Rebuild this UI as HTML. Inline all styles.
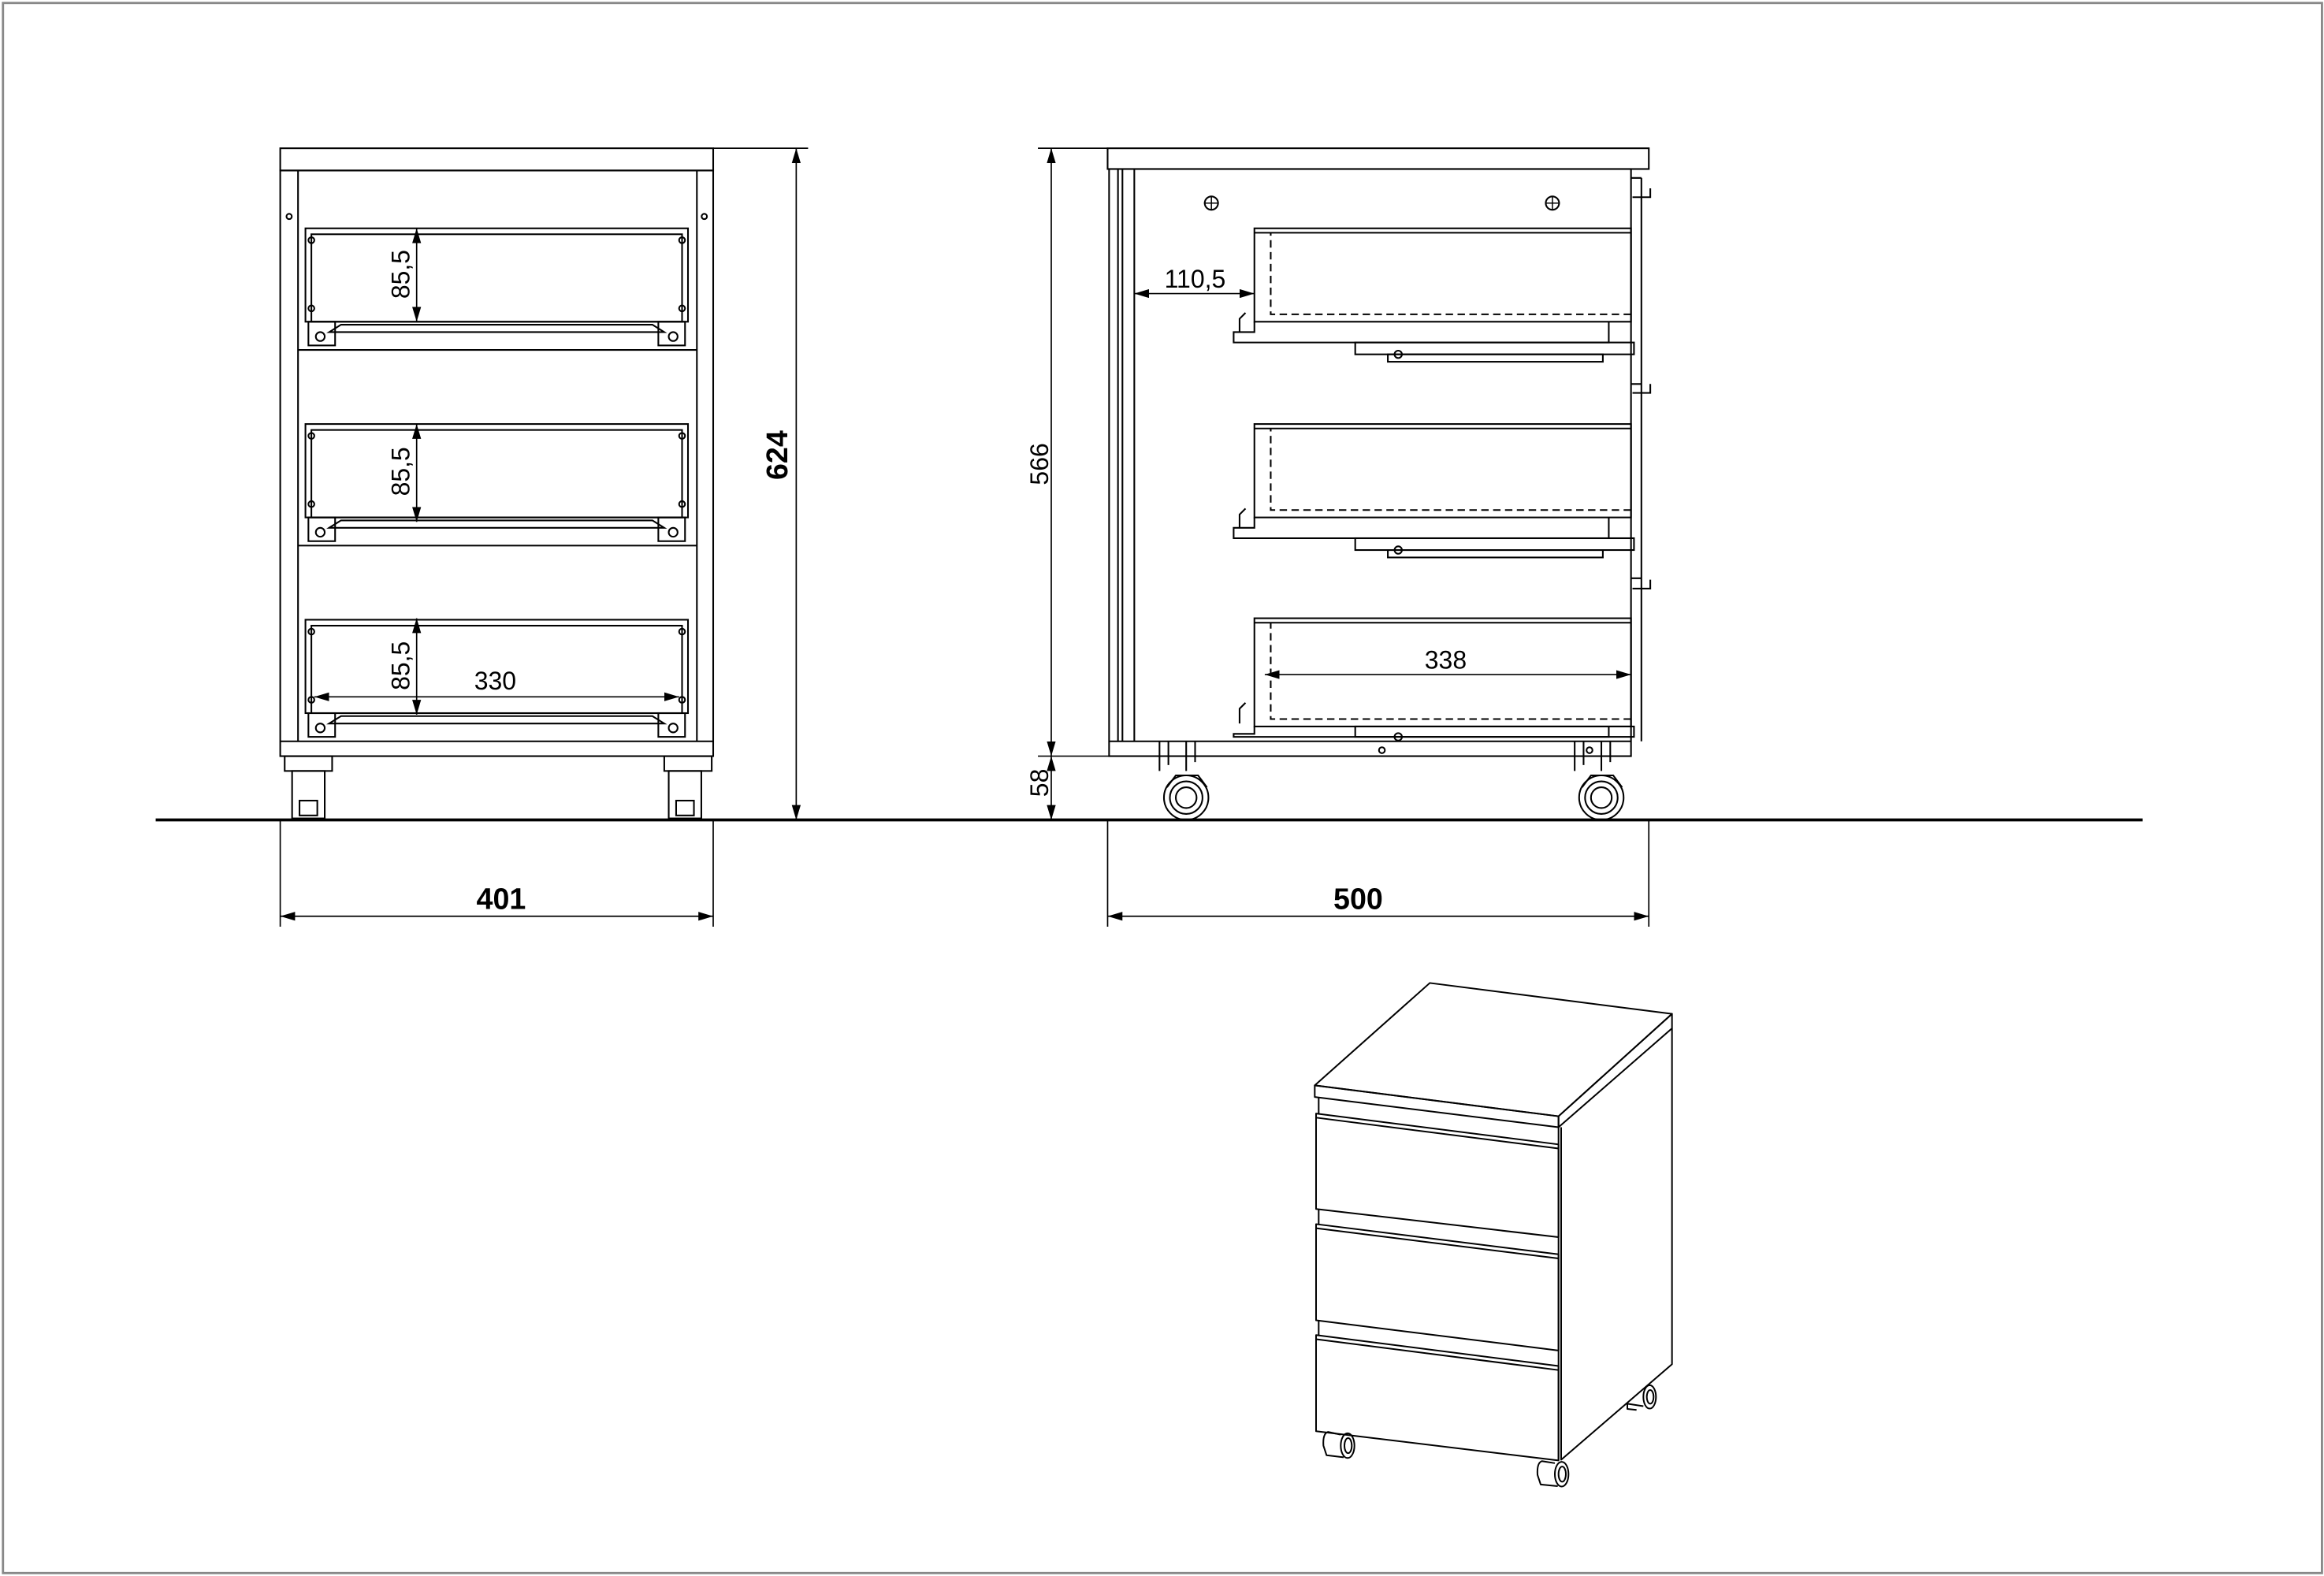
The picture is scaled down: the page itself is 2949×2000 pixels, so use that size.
<!DOCTYPE html>
<html><head><meta charset="utf-8"><style>html,body{margin:0;padding:0;background:#fff}svg{display:block}</style></head>
<body>
<svg width="2949" height="2000" viewBox="0 0 2949 2000" xmlns="http://www.w3.org/2000/svg">
<defs>
<marker id="a" viewBox="0 0 10 6" refX="10" refY="3" markerWidth="10" markerHeight="6" markerUnits="userSpaceOnUse" orient="auto-start-reverse"><path d="M0,0 L10,3 L0,6 z" fill="#000"/></marker>
</defs>
<rect x="0" y="0" width="2949" height="2000" fill="#fff"/>
<g transform="scale(1.8815)" fill="none" stroke="#000" stroke-width="1.1" font-family="Liberation Sans, sans-serif">
<rect x="2" y="2" width="1564" height="1059" stroke="#888" stroke-width="1.5"/>
<line x1="105" y1="553" x2="1445" y2="553" stroke-width="2"/>

<!-- FRONT VIEW -->
<rect x="189" y="100" width="292" height="15"/>
<rect x="189" y="115" width="292" height="395"/>
<line x1="201" y1="115" x2="201" y2="500"/><line x1="470" y1="115" x2="470" y2="500"/>
<line x1="189" y1="500" x2="481" y2="500"/>
<line x1="201" y1="236" x2="470" y2="236"/><line x1="201" y1="368" x2="470" y2="368"/>
<circle cx="195" cy="146" r="1.8"/><circle cx="475" cy="146" r="1.8"/>
<g id="fd">
<rect x="206" y="154" width="258" height="63"/>
<rect x="210" y="158" width="250" height="59"/>
<circle cx="210" cy="162" r="2"/><circle cx="460" cy="162" r="2"/>
<circle cx="210" cy="208" r="2"/><circle cx="460" cy="208" r="2"/>
<path d="M222,224 L230,219 L440,219 L448,224 Z"/>
<rect x="208" y="217" width="18" height="16"/><rect x="444" y="217" width="18" height="16"/>
<circle cx="216" cy="227" r="3"/><circle cx="454" cy="227" r="3"/>
</g>
<use href="#fd" transform="translate(0,132)"/>
<use href="#fd" transform="translate(0,264)"/>
<rect x="192" y="510" width="32" height="10"/><rect x="197" y="520" width="22" height="32"/><rect x="202" y="540" width="12" height="10"/>
<rect x="448" y="510" width="32" height="10"/><rect x="451" y="520" width="22" height="32"/><rect x="456" y="540" width="12" height="10"/>
<g stroke-width="0.9">
<line x1="281" y1="154" x2="281" y2="217" marker-start="url(#a)" marker-end="url(#a)"/>
<line x1="281" y1="286" x2="281" y2="352" marker-start="url(#a)" marker-end="url(#a)"/>
<line x1="281" y1="417" x2="281" y2="482" marker-start="url(#a)" marker-end="url(#a)"/>
<line x1="212" y1="470" x2="458" y2="470" marker-start="url(#a)" marker-end="url(#a)"/>
<line x1="537" y1="100" x2="537" y2="553" marker-start="url(#a)" marker-end="url(#a)"/>
<line x1="481" y1="100" x2="545" y2="100"/>
<line x1="189" y1="618" x2="481" y2="618" marker-start="url(#a)" marker-end="url(#a)"/>
<line x1="189" y1="553" x2="189" y2="625"/><line x1="481" y1="553" x2="481" y2="625"/>
</g>
<g fill="#000" stroke="none" font-size="17">
<text transform="translate(276,185) rotate(-90)" text-anchor="middle">85,5</text>
<text transform="translate(276,318) rotate(-90)" text-anchor="middle">85,5</text>
<text transform="translate(276,449) rotate(-90)" text-anchor="middle">85,5</text>
<text x="334" y="465" text-anchor="middle">330</text>
<text transform="translate(531,307) rotate(-90)" text-anchor="middle" font-weight="bold" font-size="20">624</text>
<text x="338" y="613" text-anchor="middle" font-weight="bold" font-size="20">401</text>
</g>

<!-- SIDE VIEW -->
<rect x="747" y="100" width="365" height="14"/>
<rect x="748" y="114" width="352" height="396"/>
<line x1="754" y1="114" x2="754" y2="500"/><line x1="757" y1="114" x2="757" y2="500"/><line x1="765" y1="114" x2="765" y2="500"/>
<line x1="748" y1="500" x2="1100" y2="500"/>
<line x1="1107" y1="120" x2="1107" y2="500"/>
<path d="M1100,120 L1107,120 M1100,259 L1107,259 M1100,390 L1107,390"/>
<path d="M1101,133 L1113,133 L1113,127 M1101,265 L1113,265 L1113,259 M1101,397 L1113,397 L1113,391"/>
<circle cx="817" cy="137" r="4.5"/><circle cx="1047" cy="137" r="4.5"/>
<path d="M817,132 L817,142 M812,137 L822,137 M1047,132 L1047,142 M1042,137 L1052,137" stroke-width="0.8"/>
<g id="sd">
<rect x="846" y="154" width="254" height="63"/>
<line x1="846" y1="157" x2="1100" y2="157"/>
<path d="M1100,212 L857,212 L857,157" stroke-dasharray="5,3"/>
<path d="M846,217 L846,224 L832,224 L832,231 L1085,231 L1085,217"/>
<path d="M836,224 L836,215 L840,211"/>
<rect x="914" y="231" width="188" height="8"/>
<rect x="936" y="239" width="145" height="5"/>
<circle cx="943" cy="239" r="2.5"/>
</g>
<use href="#sd" transform="translate(0,132)"/>
<g>
<rect x="846" y="417" width="254" height="73"/>
<line x1="846" y1="420" x2="1100" y2="420"/>
<path d="M1100,485 L857,485 L857,420" stroke-dasharray="5,3"/>
<path d="M846,490 L846,495 L832,495 L832,497 L1085,497 L1085,490"/>
<path d="M836,488 L836,478 L840,474"/>
<rect x="914" y="490" width="188" height="7"/>
<circle cx="943" cy="497" r="2.5"/>
</g>
<circle cx="932" cy="506" r="2"/><circle cx="1072" cy="506" r="2"/>
<g id="sc">
<path d="M782,500 L782,520 M788,500 L788,516 M800,500 L800,520 M806,500 L806,514"/>
<circle cx="800" cy="538" r="15"/><circle cx="800" cy="538" r="11"/><circle cx="800" cy="538" r="7"/>
<path d="M787,531 L793,523 L808,523 L814,531"/>
</g>
<use href="#sc" transform="translate(280,0)"/>
<g stroke-width="0.9">
<line x1="709" y1="100" x2="709" y2="510" marker-start="url(#a)" marker-end="url(#a)"/>
<line x1="709" y1="510" x2="709" y2="553" marker-start="url(#a)" marker-end="url(#a)"/>
<line x1="700" y1="100" x2="747" y2="100"/>
<line x1="700" y1="510" x2="748" y2="510"/>
<line x1="765" y1="198" x2="846" y2="198" marker-start="url(#a)" marker-end="url(#a)"/>
<line x1="853" y1="455" x2="1100" y2="455" marker-start="url(#a)" marker-end="url(#a)"/>
<line x1="747" y1="618" x2="1112" y2="618" marker-start="url(#a)" marker-end="url(#a)"/>
<line x1="747" y1="553" x2="747" y2="625"/><line x1="1112" y1="553" x2="1112" y2="625"/>
</g>
<g fill="#000" stroke="none" font-size="17">
<text transform="translate(707,313) rotate(-90)" text-anchor="middle">566</text>
<text transform="translate(707,528) rotate(-90)" text-anchor="middle">58</text>
<text x="806" y="194" text-anchor="middle">110,5</text>
<text x="975" y="451" text-anchor="middle">338</text>
<text x="916" y="613" text-anchor="middle" font-weight="bold" font-size="20">500</text>
</g>
</g>

<!-- ISO VIEW -->
<g transform="translate(1620,1230) scale(0.33333,0.43590)" fill="none" stroke="#000" stroke-linejoin="round">
<g stroke-width="2">
<polygon vector-effect="non-scaling-stroke" points="145,338 583,40 1505,130 1073,428"/>
<polygon vector-effect="non-scaling-stroke" points="145,338 145,372 1073,460 1073,428"/>
<polygon vector-effect="non-scaling-stroke" points="1073,428 1073,460 1505,172 1505,130"/>
<path vector-effect="non-scaling-stroke" d="M1083,460 L1083,1428 L1505,1150 L1505,172"/>
<line vector-effect="non-scaling-stroke" x1="1073" y1="460" x2="1073" y2="1430"/>
<path vector-effect="non-scaling-stroke" d="M160,372 L160,420 M160,698 L160,742 M160,1022 L160,1065"/>
<polygon vector-effect="non-scaling-stroke" points="150,420 1073,510 1073,780 150,698"/>
<line vector-effect="non-scaling-stroke" x1="150" y1="432" x2="1073" y2="522"/>
<polygon vector-effect="non-scaling-stroke" points="150,742 1073,830 1073,1110 150,1022"/>
<line vector-effect="non-scaling-stroke" x1="150" y1="754" x2="1073" y2="842"/>
<polygon vector-effect="non-scaling-stroke" points="150,1065 1073,1155 1073,1430 150,1345"/>
<line vector-effect="non-scaling-stroke" x1="150" y1="1077" x2="1073" y2="1167"/>
<ellipse vector-effect="non-scaling-stroke" cx="270" cy="1387" rx="26" ry="36"/><ellipse vector-effect="non-scaling-stroke" cx="272" cy="1387" rx="14" ry="22"/>
<path vector-effect="non-scaling-stroke" d="M244,1355 L195,1347 Q175,1352 178,1387 L190,1415 L255,1421"/>
<ellipse vector-effect="non-scaling-stroke" cx="1085" cy="1470" rx="26" ry="36"/><ellipse vector-effect="non-scaling-stroke" cx="1087" cy="1470" rx="14" ry="22"/>
<path vector-effect="non-scaling-stroke" d="M1059,1438 L1010,1432 Q990,1437 993,1472 L1005,1500 L1070,1505"/>
<ellipse vector-effect="non-scaling-stroke" cx="1420" cy="1245" rx="24" ry="34"/><ellipse vector-effect="non-scaling-stroke" cx="1422" cy="1245" rx="13" ry="20"/>
<path vector-effect="non-scaling-stroke" d="M1396,1272 L1335,1265 L1335,1280 L1370,1283"/>
</g>
</g>
</svg>
</body></html>
